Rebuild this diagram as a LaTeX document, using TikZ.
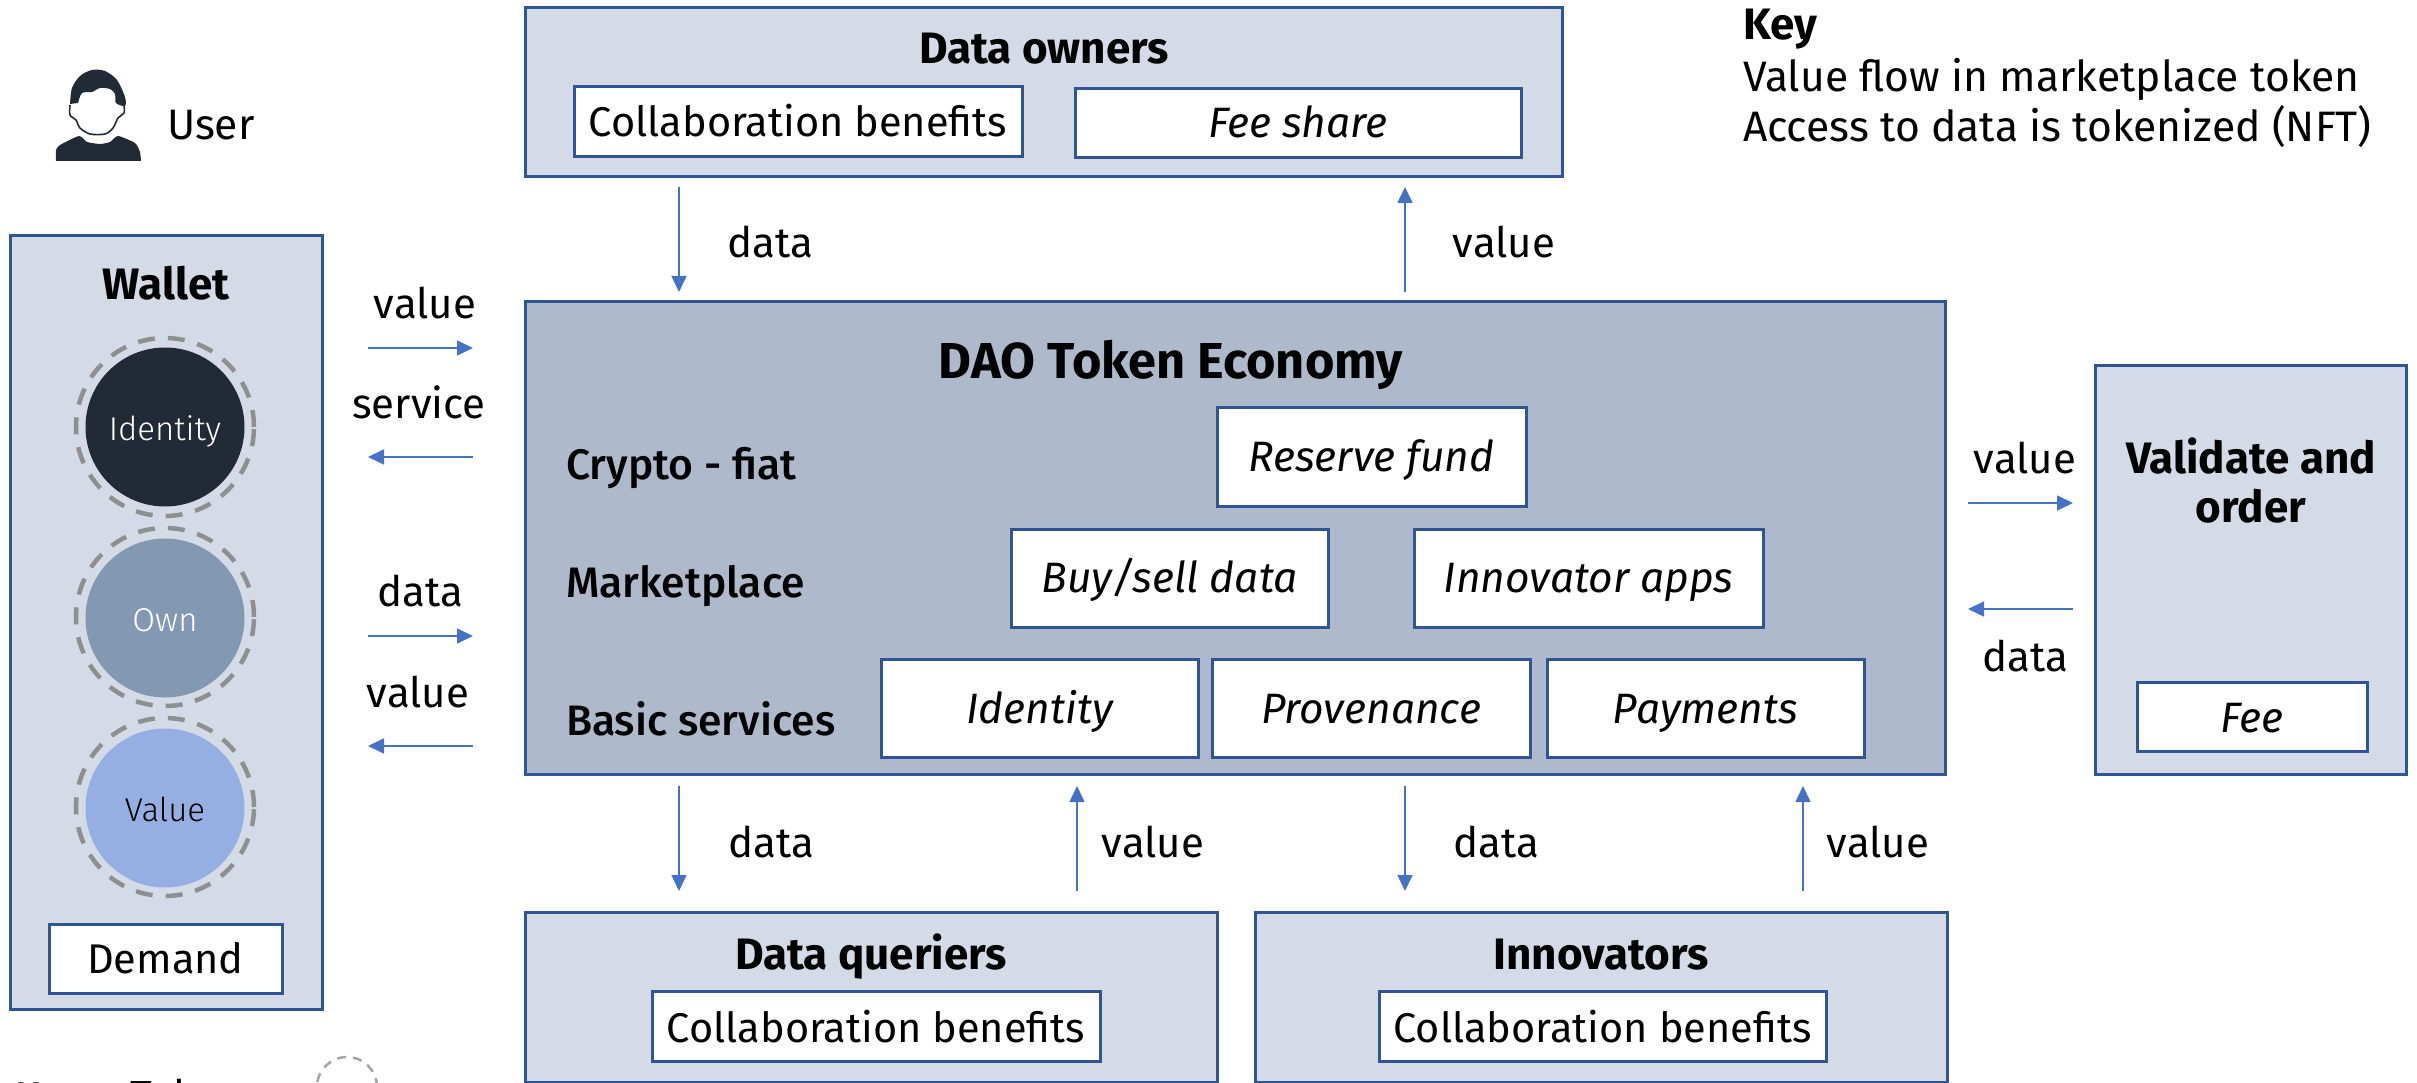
\documentclass[tikz,border=0pt]{standalone}
\usepackage{fontspec}
\usetikzlibrary{arrows.meta}
\setmainfont{Fira Sans}
\newfontfamily\medf{Fira Sans Medium}
\newfontfamily\lightf{Fira Sans Light}
\definecolor{bordc}{HTML}{2F5597}
\definecolor{lightc}{HTML}{D5DBE6}
\definecolor{midc}{HTML}{AEB9CB}
\definecolor{flowc}{HTML}{4472C4}
\definecolor{darkc}{HTML}{222A36}
\definecolor{ownc}{HTML}{8398B2}
\definecolor{valc}{HTML}{95AFE3}
\definecolor{ringc}{HTML}{8F8F8F}
\tikzset{
  every node/.style={inner sep=0pt,outer sep=0pt},
  panel/.style={draw=bordc,line width=3pt,fill=lightc,rectangle},
  tokenpanel/.style={draw=bordc,line width=3pt,fill=midc,rectangle},
  inbox/.style={draw=bordc,line width=3pt,fill=white,rectangle,font=\fontsize{41.5}{48}\selectfont},
  itbox/.style={inbox,font=\fontsize{42.5}{48}\selectfont\itshape},
  bl/.style={text height=#1pt,text depth=0pt},
  ttl/.style={anchor=base,yshift=-1.5pt,font=\fontsize{44}{50}\selectfont\bfseries,align=center},
  lbl/.style={anchor=base,yshift=-1.5pt,font=\fontsize{42}{48}\selectfont},
  keyl/.style={anchor=base west,yshift=-1.5pt,font=\fontsize{42.6}{48}\selectfont},
  rowlbl/.style={anchor=base west,yshift=-1.5pt,font=\fontsize{42.6}{48}\selectfont\medf},
  disc/.style={circle,minimum size=159pt,font=\fontsize{33}{40}\selectfont\lightf},
  ring/.style={circle,minimum size=178pt,draw=ringc,line width=4.5pt,dash pattern=on 17pt off 13pt},
  flow/.style={draw=flowc,line width=1.6pt,-{Triangle[length=16pt,width=15pt]}},
}
\begin{document}
\begin{tikzpicture}[x=1pt,y=-1pt]
\useasboundingbox (0,0) rectangle (2417,1083);
\clip (0,0) rectangle (2417,1083);
% guide coordinates for the connectors
\coordinate (xa) at (679,0);
\coordinate (xb) at (1405,0);
\coordinate (xc) at (1077,0);
\coordinate (xd) at (1803,0);
\coordinate (ya) at (0,348);
\coordinate (yb) at (0,457);
\coordinate (yc) at (0,636);
\coordinate (yd) at (0,746);
\coordinate (ye) at (0,503);
\coordinate (yf) at (0,609);
% user
\fill[darkc] plot[smooth,tension=.35] coordinates {(56,161) (56,150) (60,145) (79,136) (87,142) (100,144) (110,142) (118,136) (135,143) (140,152) (141,161)} -- cycle;
\fill[darkc] plot[smooth,tension=.5] coordinates {(70,104) (72,88) (80,76) (92,70) (105,71) (117,80) (125,97) (125,106) (116,103) (115,94) (110,89) (100,88) (92,92) (82,93) (78,103)} -- cycle;
\draw[darkc,line width=1.6pt] plot[smooth,tension=.5] coordinates {(70,105) (70,115) (76,120) (80,128) (90,134) (105,134) (113,128) (118,118) (124,113) (124,105)};
\node[keyl] (usertxt) at (167,138) {User};
% key
\node[ttl,anchor=base west] (keyt) at (1743,38) {Key};
\node[keyl] (key1) at (1743,90) {Value flow in marketplace token};
\node[keyl] (key2) at (1743,140) {Access to data is tokenized (NFT)};
% panels
\node[panel,minimum width=1037pt,minimum height=169pt] (owners) at (1043.5,92.5) {};
\node[tokenpanel,minimum width=1420pt,minimum height=472pt] (token) at (1235,538) {};
\node[panel,minimum width=311pt,minimum height=409pt] (validate) at (2250.5,569.5) {};
\node[panel,minimum width=312pt,minimum height=773pt] (wallet) at (166,622.5) {};
\node[panel,minimum width=692pt,minimum height=170pt] (queriers) at (871,997) {};
\node[panel,minimum width=692pt,minimum height=170pt] (innovators) at (1601,997) {};
% titles
\node[ttl] (ownerst) at (1044,62) {Data owners};
\node[ttl,font=\fontsize{50.5}{56}\selectfont\bfseries] (tokent) at (1171,377) {DAO Token Economy};
\node[ttl] (walt) at (166,298) {Wallet};
\node[ttl,anchor=base] (valt1) at (2251,472) {Validate and};
\node[ttl,anchor=base] (valt2) at (2251,521) {order};
\node[ttl] (quert) at (871,968) {Data queriers};
\node[ttl] (innot) at (1601,968) {Innovators};
% inner boxes
\node[inbox,minimum width=448pt,minimum height=70pt,bl=29] (own1) at (798,122) {Collaboration benefits};
\node[itbox,minimum width=446pt,minimum height=69pt,bl=29] (own2) at (1298,123.5) {Fee share};
\node[itbox,minimum width=309pt,minimum height=99pt,bl=29] (reserve) at (1371.5,456.5) {Reserve fund};
\node[itbox,minimum width=317pt,minimum height=98pt,bl=28] (buy) at (1169.5,578) {Buy/sell data};
\node[itbox,minimum width=349pt,minimum height=98pt,bl=28] (apps) at (1588.5,578) {Innovator apps};
\node[itbox,minimum width=317pt,minimum height=98pt,bl=31] (ident) at (1039.5,708) {Identity};
\node[itbox,minimum width=318pt,minimum height=98pt,bl=31] (prov) at (1371,708) {Provenance};
\node[itbox,minimum width=317pt,minimum height=98pt,bl=31] (pay) at (1705.5,708) {Payments};
\node[itbox,minimum width=230pt,minimum height=69pt,bl=31] (fee) at (2252,716.5) {Fee};
\node[inbox,minimum width=233pt,minimum height=69pt,bl=29] (demand) at (165.5,958.5) {Demand};
\node[inbox,minimum width=448pt,minimum height=70pt,bl=32] (colq) at (876,1026) {Collaboration benefits};
\node[inbox,minimum width=447pt,minimum height=70pt,bl=32] (coli) at (1602.5,1026) {Collaboration benefits};
% row labels
\node[rowlbl] (rcrypto) at (566,478) {Crypto - fiat};
\node[rowlbl] (rmarket) at (566,596) {Marketplace};
\node[rowlbl] (rbasic) at (566,734) {Basic services};
% wallet discs
\node[ring] (r1) at (165,427) {};
\node[ring] (r2) at (165,617) {};
\node[ring] (r3) at (165,807) {};
\node[disc,fill=darkc,text=white,bl=26] (d1) at (165,427) {Identity};
\node[disc,fill=ownc,text=white,bl=26] (d2) at (165,618) {Own};
\node[disc,fill=valc,text=black,bl=26] (d3) at (165,808) {Value};
% connectors
\draw[flow,shorten <=10pt,shorten >=10pt] (owners.south -| xa) -- (token.north -| xa);
\draw[flow,shorten <=10pt,shorten >=10pt] (token.north -| xb) -- (owners.south -| xb);
\draw[flow,shorten <=12pt,shorten >=21pt] (token.south -| xa) -- (queriers.north -| xa);
\draw[flow,shorten <=21pt,shorten >=12pt] (queriers.north -| xc) -- (token.south -| xc);
\draw[flow,shorten <=12pt,shorten >=21pt] (token.south -| xb) -- (innovators.north -| xb);
\draw[flow,shorten <=21pt,shorten >=12pt] (innovators.north -| xd) -- (token.south -| xd);
\draw[flow,shorten <=46pt,shorten >=52pt] (wallet.east |- ya) -- (token.west |- ya);
\draw[flow,shorten <=52pt,shorten >=46pt] (token.west |- yb) -- (wallet.east |- yb);
\draw[flow,shorten <=46pt,shorten >=52pt] (wallet.east |- yc) -- (token.west |- yc);
\draw[flow,shorten <=52pt,shorten >=46pt] (token.west |- yd) -- (wallet.east |- yd);
\draw[flow,shorten <=23pt,shorten >=22pt] (token.east |- ye) -- (validate.west |- ye);
\draw[flow,shorten <=22pt,shorten >=23pt] (validate.west |- yf) -- (token.east |- yf);
% connector labels
\node[lbl] (l1) at (770,256) {data};
\node[lbl] (l2) at (1504,256) {value};
\node[lbl] (l3) at (425,317) {value};
\node[lbl] (l4) at (419,417) {service};
\node[lbl] (l5) at (420,605) {data};
\node[lbl] (l6) at (418,706) {value};
\node[lbl] (l7) at (2025,472) {value};
\node[lbl] (l8) at (2025,670) {data};
\node[lbl] (l9) at (771,856) {data};
\node[lbl] (l10) at (1153,856) {value};
\node[lbl] (l11) at (1496,856) {data};
\node[lbl] (l12) at (1878,856) {value};
% cut-off key at the bottom edge
\node[ttl,anchor=base west,font=\fontsize{40}{48}\selectfont\medf] (kk) at (15,1109) {Key:};
\node[lbl,anchor=base west] (kt) at (130,1109) {Token};
\node[circle,minimum size=60pt,draw=ringc!80,line width=2.5pt,dash pattern=on 9pt off 7pt] (kr) at (347,1087) {};
\end{tikzpicture}
\end{document}
